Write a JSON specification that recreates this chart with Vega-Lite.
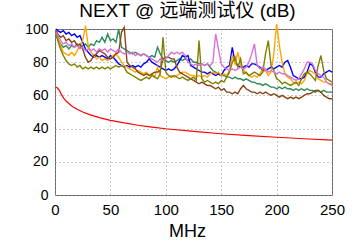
{
  "$schema": "https://vega.github.io/schema/vega-lite/v6.json",
  "width": 277,
  "height": 166,
  "autosize": "none",
  "padding": {"left": 55, "top": 29, "right": 23, "bottom": 53},
  "background": "white",
  "title": {"text": "NEXT @ 远端测试仪 (dB)", "fontSize": 19, "font": "Liberation Sans, Noto Sans CJK SC", "fontWeight": "normal", "color": "black", "offset": 0, "dx": -6},
  "config": {
    "view": {"stroke": "#666666", "strokeWidth": 1},
    "axis": {"gridDash": [1, 3], "gridColor": "#999999", "gridWidth": 1, "domain": false, "ticks": false, "labelColor": "black", "labelFont": "Liberation Sans", "titleFont": "Liberation Sans", "titleColor": "black", "titleFontWeight": "normal"}
  },
  "datasets": {
    "m": [
      {"f":1,"green":96,"blue":100,"orange":99,"brown":99,"olive":97,"violet":98},
      {"f":2.5,"green":94,"blue":99,"orange":95,"brown":97,"olive":93,"violet":96},
      {"f":5,"green":91,"blue":98,"orange":90,"brown":95,"olive":88,"violet":93},
      {"f":7.5,"green":89,"blue":99,"orange":86,"brown":96,"olive":84,"violet":91},
      {"f":10,"green":90,"blue":97,"orange":85,"brown":93,"olive":81,"violet":92},
      {"f":12.5,"green":88,"blue":98,"orange":84,"brown":94,"olive":79,"violet":90},
      {"f":15,"green":90,"blue":96,"orange":86,"brown":92,"olive":78,"violet":91},
      {"f":17.5,"green":89,"blue":97,"orange":84,"brown":93,"olive":79,"violet":89},
      {"f":20,"green":91,"blue":95,"orange":87,"brown":90,"olive":77,"violet":90},
      {"f":22.5,"green":89,"blue":96,"orange":90,"brown":91,"olive":78,"violet":88},
      {"f":25,"green":90,"blue":92,"orange":93,"brown":88,"olive":76,"violet":89},
      {"f":27.5,"green":91,"blue":88,"orange":102,"brown":83,"olive":77,"violet":87},
      {"f":30,"green":89,"blue":86,"orange":90,"brown":80,"olive":76,"violet":88},
      {"f":32.5,"green":91,"blue":84,"orange":86,"brown":81,"olive":77,"violet":87},
      {"f":35,"green":90,"blue":83,"orange":84,"brown":84,"olive":76,"violet":88},
      {"f":37.5,"green":93,"blue":84,"orange":82,"brown":85,"olive":77,"violet":86},
      {"f":40,"green":92,"blue":83,"orange":83,"brown":87,"olive":76,"violet":88},
      {"f":42.5,"green":95,"blue":84,"orange":81,"brown":86,"olive":77,"violet":87},
      {"f":45,"green":92,"blue":83,"orange":82,"brown":85,"olive":76,"violet":88},
      {"f":47.5,"green":97,"blue":82,"orange":81,"brown":83,"olive":77,"violet":86},
      {"f":50,"green":93,"blue":84,"orange":82,"brown":82,"olive":76,"violet":88},
      {"f":52.5,"green":94,"blue":83,"orange":84,"brown":83,"olive":77,"violet":87},
      {"f":55,"green":92,"blue":81,"orange":85,"brown":85,"olive":78,"violet":86},
      {"f":57.5,"green":100,"blue":79,"orange":83,"brown":86,"olive":77,"violet":88},
      {"f":60,"green":89,"blue":78,"orange":80,"brown":98,"olive":78,"violet":86},
      {"f":62.5,"green":88,"blue":77,"orange":78,"brown":101,"olive":77,"violet":85},
      {"f":65,"green":87,"blue":78,"orange":77,"brown":80,"olive":74,"violet":86},
      {"f":67.5,"green":86,"blue":77,"orange":76,"brown":78,"olive":73,"violet":85},
      {"f":70,"green":85,"blue":78,"orange":75,"brown":77,"olive":72,"violet":86},
      {"f":72.5,"green":86,"blue":77,"orange":74,"brown":76,"olive":71,"violet":84},
      {"f":75,"green":85,"blue":78,"orange":75,"brown":74,"olive":70,"violet":85},
      {"f":77.5,"green":84,"blue":77,"orange":74,"brown":73,"olive":69,"violet":84},
      {"f":80,"green":85,"blue":79,"orange":73,"brown":72,"olive":70,"violet":85},
      {"f":82.5,"green":84,"blue":80,"orange":74,"brown":73,"olive":71,"violet":84},
      {"f":85,"green":83,"blue":82,"orange":72,"brown":72,"olive":70,"violet":83},
      {"f":87.5,"green":84,"blue":80,"orange":73,"brown":73,"olive":72,"violet":82},
      {"f":90,"green":83,"blue":79,"orange":71,"brown":74,"olive":71,"violet":81},
      {"f":92.5,"green":89,"blue":78,"orange":77,"brown":74,"olive":70,"violet":80},
      {"f":95,"green":85,"blue":77,"orange":72,"brown":75,"olive":73,"violet":82},
      {"f":97.5,"green":82,"blue":76,"orange":71,"brown":82,"olive":95,"violet":81},
      {"f":100,"green":81,"blue":75,"orange":70,"brown":83,"olive":74,"violet":82},
      {"f":102.5,"green":80,"blue":76,"orange":71,"brown":83,"olive":72,"violet":84},
      {"f":105,"green":81,"blue":75,"orange":72,"brown":82,"olive":71,"violet":86},
      {"f":107.5,"green":80,"blue":76,"orange":71,"brown":82,"olive":72,"violet":85},
      {"f":110,"green":81,"blue":78,"orange":72,"brown":77,"olive":71,"violet":86},
      {"f":112.5,"green":82,"blue":81,"orange":73,"brown":74,"olive":70,"violet":85},
      {"f":115,"green":81,"blue":84,"orange":74,"brown":73,"olive":71,"violet":86},
      {"f":117.5,"green":82,"blue":83,"orange":74,"brown":72,"olive":70,"violet":84},
      {"f":120,"green":81,"blue":84,"orange":73,"brown":71,"olive":69,"violet":80},
      {"f":122.5,"green":82,"blue":78,"orange":72,"brown":70,"olive":70,"violet":79},
      {"f":125,"green":80,"blue":77,"orange":72,"brown":69,"olive":71,"violet":78},
      {"f":127.5,"green":80,"blue":76,"orange":71,"brown":68,"olive":69,"violet":79},
      {"f":130,"green":79,"blue":75,"orange":72,"brown":67,"olive":93,"violet":78},
      {"f":132.5,"green":79,"blue":74,"orange":71,"brown":68,"olive":70,"violet":79},
      {"f":135,"green":78,"blue":74,"orange":72,"brown":67,"olive":68,"violet":78},
      {"f":137.5,"green":79,"blue":73,"orange":71,"brown":66,"olive":69,"violet":79},
      {"f":140,"green":77,"blue":74,"orange":73,"brown":66,"olive":68,"violet":78},
      {"f":142.5,"green":75,"blue":73,"orange":74,"brown":65,"olive":67,"violet":80},
      {"f":145,"green":74,"blue":72,"orange":73,"brown":64,"olive":68,"violet":97},
      {"f":147.5,"green":73,"blue":73,"orange":74,"brown":65,"olive":67,"violet":88},
      {"f":150,"green":72,"blue":72,"orange":72,"brown":63,"olive":69,"violet":79},
      {"f":152.5,"green":72,"blue":75,"orange":73,"brown":64,"olive":68,"violet":77},
      {"f":155,"green":71,"blue":77,"orange":72,"brown":62,"olive":71,"violet":76},
      {"f":157.5,"green":71,"blue":78,"orange":75,"brown":62,"olive":74,"violet":75},
      {"f":160,"green":70,"blue":89,"orange":84,"brown":61,"olive":80,"violet":76},
      {"f":162.5,"green":71,"blue":80,"orange":79,"brown":62,"olive":83,"violet":75},
      {"f":165,"green":70,"blue":78,"orange":86,"brown":61,"olive":77,"violet":76},
      {"f":167.5,"green":70,"blue":77,"orange":78,"brown":64,"olive":82,"violet":77},
      {"f":170,"green":69,"blue":77,"orange":76,"brown":66,"olive":73,"violet":76},
      {"f":172.5,"green":70,"blue":78,"orange":73,"brown":64,"olive":74,"violet":77},
      {"f":175,"green":69,"blue":77,"orange":72,"brown":63,"olive":72,"violet":80},
      {"f":177.5,"green":68,"blue":79,"orange":71,"brown":62,"olive":73,"violet":85},
      {"f":180,"green":68,"blue":79,"orange":72,"brown":62,"olive":74,"violet":91},
      {"f":182.5,"green":67,"blue":78,"orange":71,"brown":61,"olive":73,"violet":78},
      {"f":185,"green":67,"blue":77,"orange":73,"brown":62,"olive":72,"violet":76},
      {"f":187.5,"green":66,"blue":75,"orange":76,"brown":61,"olive":74,"violet":77},
      {"f":190,"green":67,"blue":75,"orange":75,"brown":62,"olive":85,"violet":76},
      {"f":192.5,"green":66,"blue":76,"orange":72,"brown":61,"olive":93,"violet":74},
      {"f":195,"green":65,"blue":77,"orange":74,"brown":60,"olive":78,"violet":75},
      {"f":197.5,"green":65,"blue":76,"orange":85,"brown":61,"olive":75,"violet":74},
      {"f":200,"green":64,"blue":77,"orange":103,"brown":60,"olive":70,"violet":73},
      {"f":202.5,"green":65,"blue":78,"orange":90,"brown":59,"olive":69,"violet":74},
      {"f":205,"green":64,"blue":77,"orange":80,"brown":60,"olive":67,"violet":73},
      {"f":207.5,"green":65,"blue":80,"orange":73,"brown":59,"olive":68,"violet":73},
      {"f":210,"green":64,"blue":81,"orange":71,"brown":58,"olive":67,"violet":72},
      {"f":212.5,"green":64,"blue":77,"orange":70,"brown":59,"olive":66,"violet":71},
      {"f":215,"green":63,"blue":72,"orange":68,"brown":58,"olive":67,"violet":70},
      {"f":217.5,"green":64,"blue":71,"orange":67,"brown":59,"olive":68,"violet":69},
      {"f":220,"green":63,"blue":70,"orange":68,"brown":58,"olive":66,"violet":70},
      {"f":222.5,"green":64,"blue":70,"orange":67,"brown":59,"olive":70,"violet":73},
      {"f":225,"green":63,"blue":71,"orange":69,"brown":60,"olive":73,"violet":76},
      {"f":227.5,"green":64,"blue":74,"orange":73,"brown":61,"olive":74,"violet":80},
      {"f":230,"green":63,"blue":79,"orange":75,"brown":61,"olive":73,"violet":80},
      {"f":232.5,"green":63,"blue":78,"orange":74,"brown":62,"olive":71,"violet":79},
      {"f":235,"green":62,"blue":74,"orange":73,"brown":63,"olive":69,"violet":75},
      {"f":237.5,"green":63,"blue":71,"orange":70,"brown":63,"olive":78,"violet":73},
      {"f":240,"green":62,"blue":71,"orange":69,"brown":62,"olive":84,"violet":72},
      {"f":242.5,"green":63,"blue":73,"orange":68,"brown":60,"olive":75,"violet":71},
      {"f":245,"green":62,"blue":74,"orange":68,"brown":59,"olive":70,"violet":68},
      {"f":247.5,"green":62,"blue":75,"orange":67,"brown":58,"olive":69,"violet":67},
      {"f":250,"green":62,"blue":74,"orange":67,"brown":58,"olive":68,"violet":66}
    ],
    "lim": [
      {"f":1,"v":65.0},{"f":2,"v":64.6},{"f":4,"v":63.0},{"f":6,"v":60.3},{"f":8,"v":58.2},{"f":10,"v":56.6},
      {"f":13,"v":54.8},{"f":16,"v":53.2},{"f":20,"v":51.6},{"f":25,"v":50.0},{"f":31.25,"v":48.4},
      {"f":40,"v":46.6},{"f":50,"v":45.0},{"f":62.5,"v":43.4},{"f":75,"v":42.0},{"f":87.5,"v":40.9},
      {"f":100,"v":39.9},{"f":125,"v":38.3},{"f":150,"v":36.9},{"f":175,"v":35.8},{"f":200,"v":34.8},
      {"f":225,"v":33.9},{"f":250,"v":33.1}
    ]
  },
  "encoding": {
    "x": {"field": "f", "type": "quantitative", "scale": {"domain": [0, 250], "nice": false},
          "axis": {"values": [0, 50, 100, 150, 200, 250], "labelFontSize": 15, "labelPadding": 7, "title": "MHz", "titleFontSize": 18, "titlePadding": 5, "titleX": 132, "labelFlush": false}},
    "y": {"field": "v", "type": "quantitative", "scale": {"domain": [0, 100], "nice": false},
          "axis": {"values": [0, 20, 40, 60, 80, 100], "labelFontSize": 14, "labelPadding": 7, "title": null}}
  },
  "layer": [
    {
      "data": {"name": "m"},
      "transform": [{"fold": ["green", "blue", "orange", "brown", "olive", "violet"], "as": ["s", "v"]}],
      "mark": {"type": "line", "strokeWidth": 1.4, "clip": false},
      "encoding": {
        "color": {"field": "s", "type": "nominal", "legend": null,
                  "scale": {"domain": ["green", "blue", "orange", "brown", "olive", "violet"],
                            "range": ["#2e8b57", "#0000ff", "#ffa500", "#8b4513", "#808000", "#da70d6"]}}
      }
    },
    {
      "data": {"name": "lim"},
      "mark": {"type": "line", "color": "#ff0000", "strokeWidth": 1.2},
      "encoding": {}
    }
  ]
}
